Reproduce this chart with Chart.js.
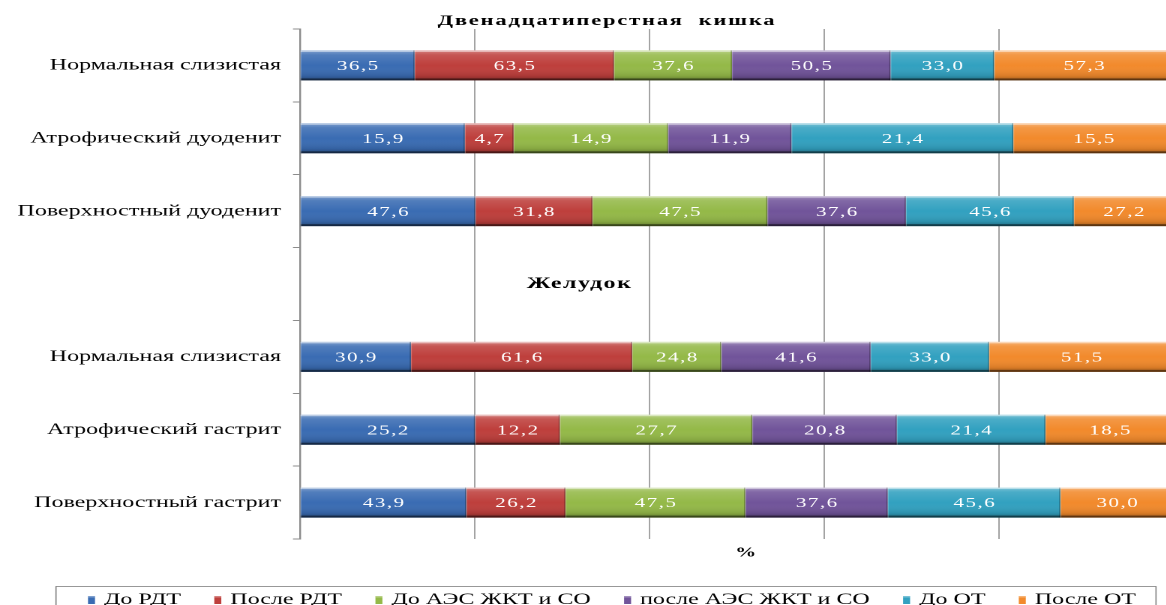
<!DOCTYPE html>
<html>
<head>
<meta charset="utf-8">
<title>Двенадцатиперстная кишка / Желудок</title>
<script src="https://cdn.jsdelivr.net/npm/chart.js@4"></script>
<style>
  html, body { margin: 0; padding: 0; overflow: hidden; background: #fff; }
  #wrap { width: 787px; height: 605px; transform: scaleX(1.5); transform-origin: 0 0; }
</style>
</head>
<body>
<div id="wrap"><canvas id="chart" width="787" height="605"></canvas></div>
<script>
// rows, top to bottom; the empty row separates the two organs
var categories = ['Нормальная слизистая', 'Атрофический дуоденит', 'Поверхностный дуоденит', '',
                  'Нормальная слизистая', 'Атрофический гастрит', 'Поверхностный гастрит'];

var seriesNames = ['До РДТ', 'После РДТ', 'До АЭС ЖКТ и СО', 'после АЭС ЖКТ и СО', 'До ОТ', 'После ОТ'];

var doRDT     = [36.5, 15.9, 47.6, null, 30.9, 25.2, 43.9];
var posleRDT  = [63.5,  4.7, 31.8, null, 61.6, 12.2, 26.2];
var doAES     = [37.6, 14.9, 47.5, null, 24.8, 27.7, 47.5];
var posleAES  = [50.5, 11.9, 37.6, null, 41.6, 20.8, 37.6];
var doOT      = [33.0, 21.4, 45.6, null, 33.0, 21.4, 45.6];
var posleOT   = [57.3, 15.5, 27.2, null, 51.5, 18.5, 30.0];

var xTicks = [0, 20, 40, 60, 80, 100];

var seriesColors = ['#3A6CB3', '#BE3F3C', '#94B948', '#71549A', '#32A1C0', '#F28A2C'];

var SX = 1.5;   // the canvas is stretched horizontally by this factor
var FONT = '"Liberation Serif", "Times New Roman", serif';

var allSeries = [doRDT, posleRDT, doAES, posleAES, doOT, posleOT];

// each row is shown as shares of its own sum (100 % stacked)
var rowTotals = categories.map(function(c, i) {
  return allSeries.reduce(function(s, arr) { return s + (arr[i] || 0); }, 0);
});

var datasets = allSeries.map(function(arr, k) {
  return {
    label: seriesNames[k],
    raw: arr,
    data: arr.map(function(v, i) { return v == null ? null : v / rowTotals[i] * 100; }),
    backgroundColor: seriesColors[k],
    borderWidth: 0,
    barPercentage: 1,
    categoryPercentage: 0.412
  };
});

function fmt(v) { return v.toFixed(1).replace('.', ','); }

var decor = {
  id: 'decor',
  afterDatasetsDraw: function(chart) {
    var ctx = chart.ctx;
    chart.data.datasets.forEach(function(ds, di) {
      chart.getDatasetMeta(di).data.forEach(function(bar, i) {
        if (ds.raw[i] == null) return;
        var p = bar.getProps(['x', 'y', 'base', 'height'], true);
        var l = Math.min(p.base, p.x), r = Math.max(p.base, p.x);
        var t = p.y - p.height / 2, b = p.y + p.height / 2;
        ctx.save();
        // bevel shading
        var g = ctx.createLinearGradient(0, t, 0, b);
        g.addColorStop(0, 'rgba(255,255,255,0.35)');
        g.addColorStop(0.15, 'rgba(255,255,255,0.12)');
        g.addColorStop(0.5, 'rgba(255,255,255,0)');
        g.addColorStop(0.85, 'rgba(0,0,0,0.10)');
        g.addColorStop(1, 'rgba(0,0,0,0.35)');
        ctx.fillStyle = g;
        ctx.fillRect(l, t, r - l, b - t);
        ctx.fillStyle = 'rgba(255,255,255,0.5)';
        ctx.fillRect(l, t, r - l, 1.5);
        ctx.fillStyle = 'rgba(0,0,0,0.45)';
        ctx.fillRect(l, b - 2, r - l, 2);
        ctx.fillStyle = 'rgba(0,0,0,0.30)';
        ctx.fillRect(r - 0.8, t, 0.8, b - t);
        ctx.fillStyle = 'rgba(255,255,255,0.25)';
        ctx.fillRect(l, t, 0.6, b - t);
        // value
        ctx.fillStyle = '#ffffff';
        ctx.font = '14px ' + FONT;
        ctx.letterSpacing = '1px';
        ctx.textAlign = 'center';
        ctx.textBaseline = 'middle';
        ctx.fillText(fmt(ds.raw[i]), (l + r) / 2 + 0.5, p.y + 1);
        ctx.restore();
      });
    });
  },
  afterDraw: function(chart) {
    var ctx = chart.ctx, xs = chart.scales.x, ys = chart.scales.y;
    ctx.save();
    ctx.fillStyle = '#000';
    ctx.textAlign = 'center';
    ctx.textBaseline = 'middle';

    ctx.font = 'bold 15px ' + FONT;
    ctx.letterSpacing = '1.2px';
    ctx.fillText('Двенадцатиперстная  кишка', 607 / SX, 21);

    ctx.font = 'bold 16px ' + FONT;
    ctx.letterSpacing = '1px';
    ctx.fillText('Желудок', xs.getPixelForValue(32), ys.getPixelForValue(3));

    ctx.font = 'bold 14px ' + FONT;
    ctx.letterSpacing = '0px';
    ctx.fillText('%', xs.getPixelForValue(51), 553);

    // legend frame and entries
    ctx.strokeStyle = '#7f7f7f';
    ctx.lineWidth = 0.8;
    ctx.strokeRect(56 / SX, 586.5, (1156 - 56) / SX, 40);

    ctx.font = '16px ' + FONT;
    ctx.textAlign = 'left';
    var boxW = 7 / SX, textOff = 16 / SX;
    var widths = seriesNames.map(function(n) { return ctx.measureText(n).width; });
    var used = widths.reduce(function(s, w) { return s + w + textOff; }, 0);
    var gap = ((1136 - 88) / SX - used) / (seriesNames.length - 1);
    var x = 88 / SX, y = 600;
    seriesNames.forEach(function(n, k) {
      ctx.fillStyle = seriesColors[k];
      ctx.fillRect(x, y - 4, boxW, 8);
      ctx.fillStyle = 'rgba(255,255,255,0.35)';
      ctx.fillRect(x, y - 4, boxW, 1.5);
      ctx.fillStyle = '#000';
      ctx.fillText(n, x + textOff, y);
      x += textOff + widths[k] + gap;
    });
    ctx.restore();
  }
};

new Chart(document.getElementById('chart'), {
  type: 'bar',
  data: { labels: categories, datasets: datasets },
  plugins: [decor],
  options: {
    indexAxis: 'y',
    responsive: false,
    animation: false,
    devicePixelRatio: 2,
    layout: { padding: { top: 29, right: 787 - 1174 / SX, left: 0, bottom: 0 } },
    plugins: { legend: { display: false }, tooltip: { enabled: false }, title: { display: false } },
    scales: {
      x: {
        stacked: true,
        min: xTicks[0],
        max: xTicks[xTicks.length - 1],
        afterBuildTicks: function(scale) { scale.ticks = xTicks.map(function(v) { return { value: v }; }); },
        afterFit: function(scale) { scale.height = 605 - 539; },
        ticks: { display: false },
        grid: { color: '#8c8c8c', lineWidth: 0.8, drawTicks: false },
        border: { display: false }
      },
      y: {
        stacked: true,
        afterFit: function(scale) { scale.width = 300 / SX; },
        ticks: { color: '#000', padding: 8, font: { family: FONT, size: 16 } },
        grid: { drawOnChartArea: false, drawTicks: true, tickLength: 7 / SX, color: '#8c8c8c', lineWidth: 1 },
        border: { display: true, color: '#8c8c8c', width: 1.2 }
      }
    }
  }
});
</script>
</body>
</html>
